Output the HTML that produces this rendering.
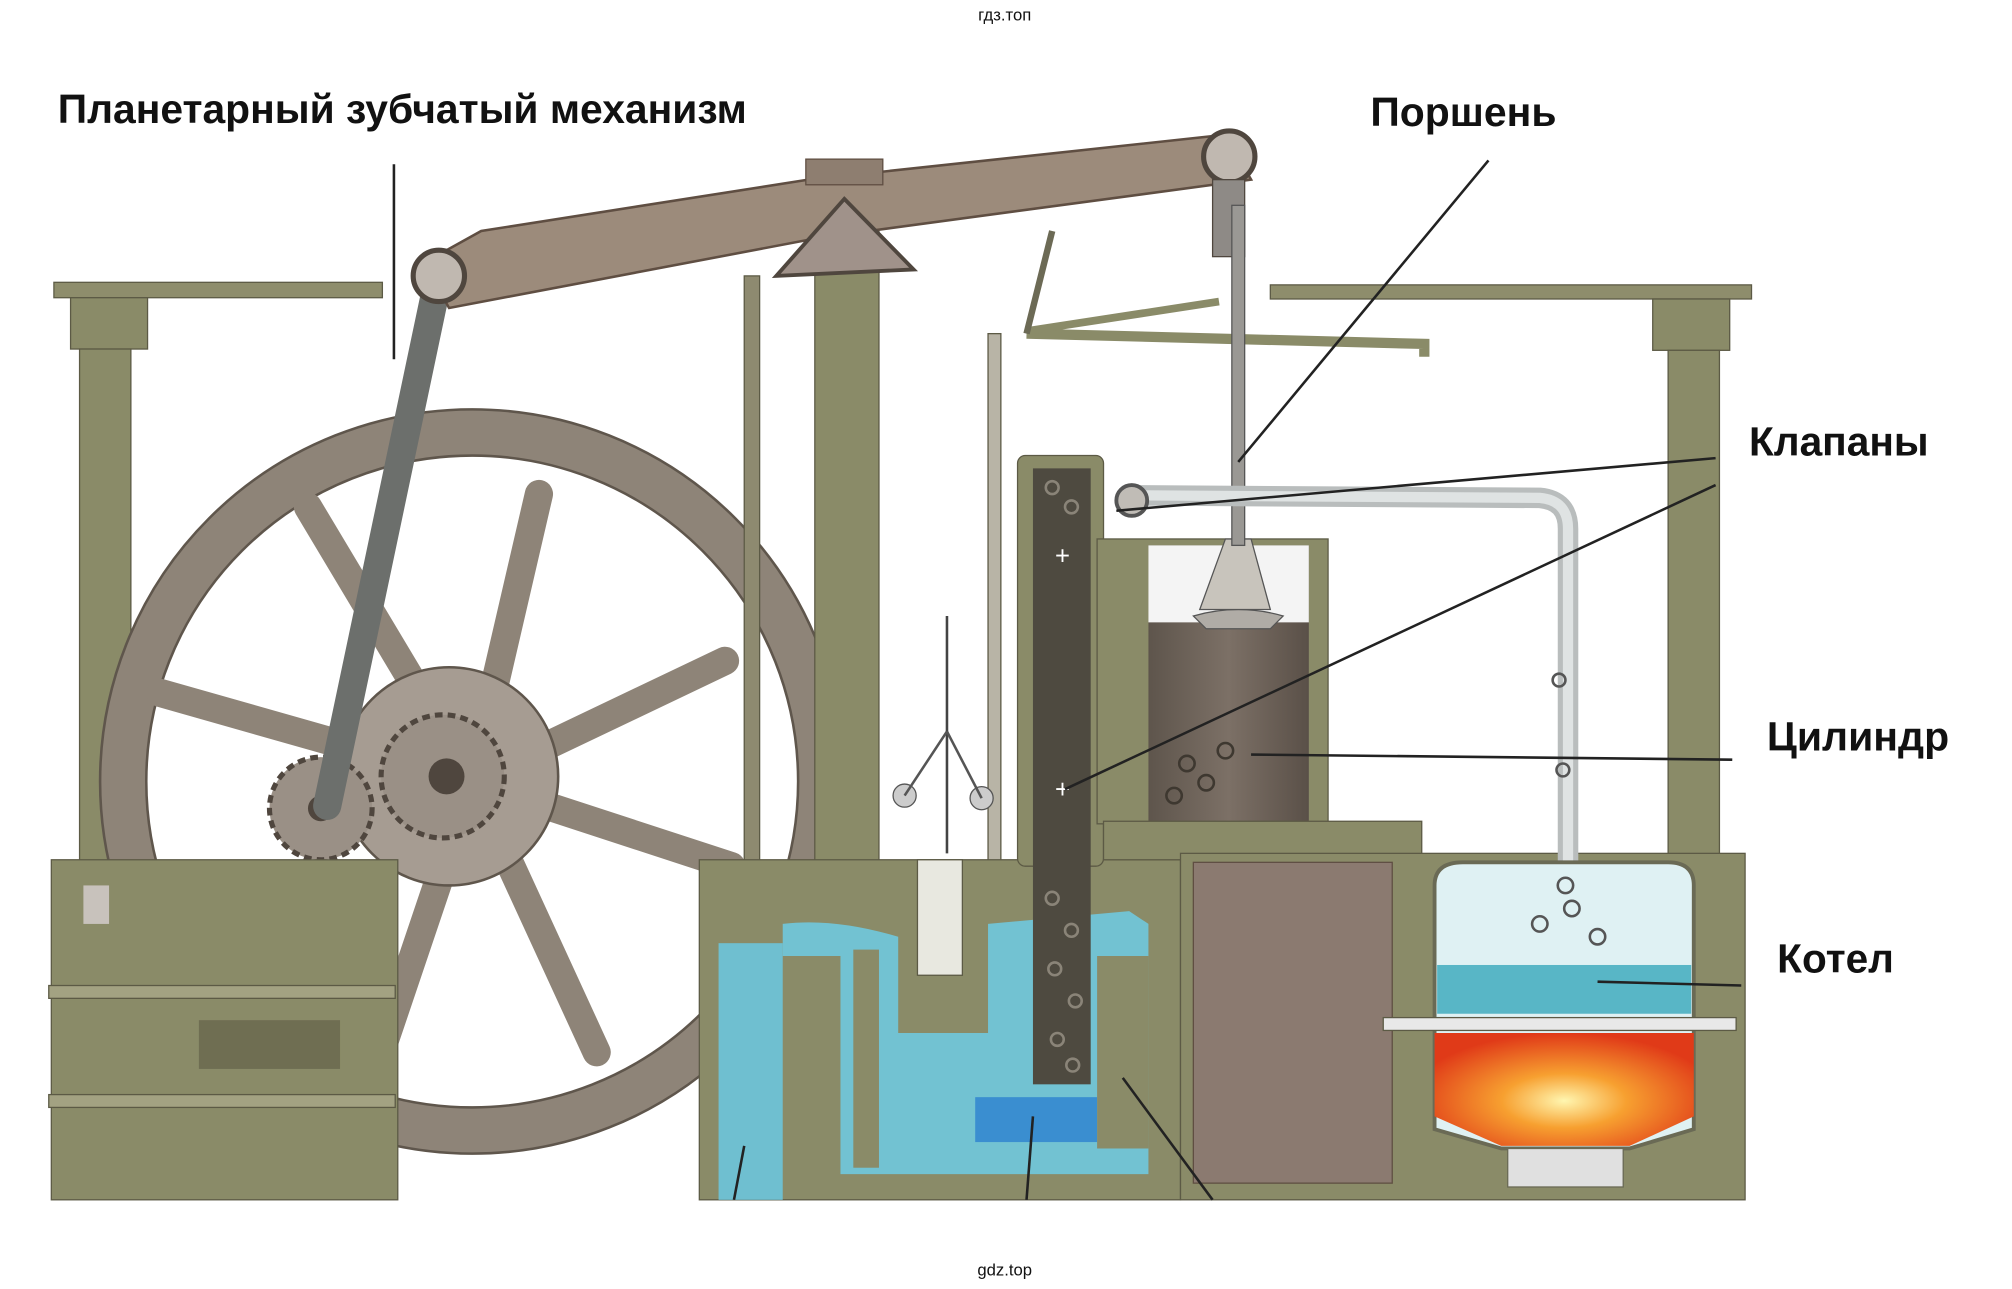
<!DOCTYPE html>
<html><head><meta charset="utf-8"><style>
html,body{margin:0;padding:0;background:#fff;width:2012px;height:1289px;overflow:hidden}
svg{display:block}
text{font-family:"Liberation Sans","DejaVu Sans",sans-serif}
.lbl{font-weight:bold;font-size:32px;fill:#111}
</style></head><body>
<svg width="2012" height="1289" viewBox="0 0 1568 1004.5" preserveAspectRatio="none" xmlns="http://www.w3.org/2000/svg">
<defs>
<radialGradient id="fire" cx="0.5" cy="0.6" r="0.6">
<stop offset="0" stop-color="#fff6b0"/><stop offset="0.4" stop-color="#f7a030"/><stop offset="1" stop-color="#e03a18"/></radialGradient>
<linearGradient id="cyl" x1="0" x2="1"><stop offset="0" stop-color="#5e554c"/><stop offset="0.5" stop-color="#7c7066"/><stop offset="1" stop-color="#5a5048"/></linearGradient>
</defs>
<text x="783" y="16" font-size="13" text-anchor="middle" fill="#111">гдз.топ</text>
<text x="783" y="994" font-size="13" text-anchor="middle" fill="#111">gdz.top</text>

<rect x="42" y="220" width="256" height="12" fill="#8e8d6c" stroke="#5c5a45"/>
<rect x="55" y="232" width="60" height="40" fill="#8a8b68" stroke="#5c5a45"/>
<rect x="62" y="272" width="40" height="400" fill="#8a8b68" stroke="#5c5a45"/>
<rect x="990" y="222" width="375" height="11" fill="#8e8d6c" stroke="#5c5a45"/>
<rect x="1288" y="233" width="60" height="40" fill="#8a8b68" stroke="#5c5a45"/>
<rect x="1300" y="273" width="40" height="400" fill="#8a8b68" stroke="#5c5a45"/>

<circle cx="368" cy="609" r="272" fill="none" stroke="#8e8478" stroke-width="36"/>
<circle cx="368" cy="609" r="290" fill="none" stroke="#5f564c" stroke-width="2"/>
<circle cx="368" cy="609" r="254" fill="none" stroke="#5f564c" stroke-width="2"/>
<g stroke="#8e8478" stroke-width="22" stroke-linecap="round">
<line x1="368" y1="609" x2="240" y2="395"/><line x1="368" y1="609" x2="420" y2="385"/>
<line x1="368" y1="609" x2="565" y2="515"/><line x1="368" y1="609" x2="570" y2="675"/>
<line x1="368" y1="609" x2="465" y2="820"/><line x1="368" y1="609" x2="290" y2="840"/>
<line x1="368" y1="609" x2="125" y2="540"/>
</g>
<circle cx="350" cy="605" r="85" fill="#a69c92" stroke="#5f564c" stroke-width="2"/>
<circle cx="345" cy="605" r="48" fill="#9a9086" stroke="#4f463e" stroke-width="4" stroke-dasharray="6 4"/>
<circle cx="348" cy="605" r="14" fill="#4f463e"/>
<circle cx="250" cy="630" r="40" fill="#9a9086" stroke="#4f463e" stroke-width="4" stroke-dasharray="6 4"/>
<circle cx="250" cy="630" r="10" fill="#4f463e"/>

<rect x="40" y="670" width="270" height="265" fill="#8a8b68" stroke="#5c5a45"/>
<rect x="38" y="768" width="270" height="10" fill="#a3a282" stroke="#5c5a45"/>
<rect x="38" y="853" width="270" height="10" fill="#a3a282" stroke="#5c5a45"/>
<rect x="65" y="690" width="20" height="30" fill="#c8c2bc"/>
<rect x="155" y="795" width="110" height="38" fill="#6f6e52"/>

<line x1="342" y1="215" x2="255" y2="628" stroke="#6c6f6c" stroke-width="22" stroke-linecap="round"/>

<rect x="635" y="180" width="50" height="500" fill="#8a8b68" stroke="#5c5a45"/>
<rect x="580" y="215" width="12" height="545" fill="#8e8a70" stroke="#5c5a45"/>
<rect x="770" y="260" width="10" height="540" fill="#b8b4a6" stroke="#5c5a45"/>

<polygon points="330,205 375,180 630,140 955,105 975,140 640,185 350,240" fill="#9c8b7b" stroke="#5f4e42" stroke-width="2"/>
<rect x="628" y="124" width="60" height="20" fill="#8e7e70" stroke="#5f4e42"/>
<polygon points="658,155 712,210 605,215" fill="#a0928a" stroke="#4f463e" stroke-width="3"/>
<circle cx="342" cy="215" r="20" fill="#c0b8b0" stroke="#4f463e" stroke-width="4"/>
<circle cx="958" cy="122" r="20" fill="#c0b8b0" stroke="#4f463e" stroke-width="4"/>
<rect x="945" y="140" width="25" height="60" fill="#8e8a86" stroke="#4f463e"/>
<polyline points="800,260 1110,268 1110,278" fill="none" stroke="#8a8b68" stroke-width="8"/>
<line x1="800" y1="258" x2="950" y2="235" stroke="#8a8b68" stroke-width="6"/>
<line x1="800" y1="260" x2="820" y2="180" stroke="#6c6a55" stroke-width="5"/>

<rect x="545" y="670" width="375" height="265" fill="#8a8b68" stroke="#5c5a45"/>
<rect x="560" y="735" width="50" height="200" fill="#6fbfd0"/>
<path d="M610,720 Q650,715 700,730 L700,805 L770,805 L770,720 L880,710 L895,720 L895,915 L655,915 L655,745 L610,745 Z" fill="#72c2d2"/>
<rect x="760" y="855" width="95" height="35" fill="#3a8ed0"/>
<rect x="665" y="740" width="20" height="170" fill="#8a8b68"/>
<rect x="855" y="745" width="40" height="150" fill="#8a8b68"/>
<rect x="715" y="670" width="35" height="90" fill="#e8e8e0" stroke="#5c5a45"/>
<line x1="738" y1="480" x2="738" y2="665" stroke="#444" stroke-width="2"/>
<circle cx="705" cy="620" r="9" fill="#ccc" stroke="#555"/><circle cx="765" cy="622" r="9" fill="#ccc" stroke="#555"/>
<line x1="705" y1="620" x2="738" y2="570" stroke="#555" stroke-width="2"/><line x1="765" y1="622" x2="738" y2="570" stroke="#555" stroke-width="2"/>

<rect x="793" y="355" width="67" height="320" rx="6" fill="#8a8b68" stroke="#5c5a45"/>
<rect x="805" y="365" width="45" height="480" fill="#4e4a40"/>
<g fill="none" stroke="#8a8478" stroke-width="2">
<circle cx="820" cy="700" r="5"/><circle cx="835" cy="725" r="5"/><circle cx="822" cy="755" r="5"/><circle cx="838" cy="780" r="5"/><circle cx="824" cy="810" r="5"/><circle cx="836" cy="830" r="5"/><circle cx="820" cy="380" r="5"/><circle cx="835" cy="395" r="5"/>
</g>
<text x="828" y="440" font-size="20" fill="#fff" text-anchor="middle">+</text>
<text x="828" y="622" font-size="20" fill="#fff" text-anchor="middle">+</text>

<rect x="855" y="420" width="180" height="222" fill="#8a8b68" stroke="#5c5a45"/>
<rect x="895" y="425" width="125" height="215" fill="url(#cyl)"/>
<rect x="895" y="425" width="125" height="60" fill="#f4f4f4"/>
<path d="M930,480 Q965,470 1000,480 L990,490 L940,490 Z" fill="#b0aca6" stroke="#555"/>
<path d="M955,420 L975,420 L990,475 L935,475 Z" fill="#c8c4bc" stroke="#555"/>
<rect x="960" y="160" width="10" height="265" fill="#9a9894" stroke="#555"/>
<g fill="none" stroke="#3e3830" stroke-width="2"><circle cx="925" cy="595" r="6"/><circle cx="955" cy="585" r="6"/><circle cx="940" cy="610" r="6"/><circle cx="915" cy="620" r="6"/></g>

<rect x="860" y="640" width="248" height="30" fill="#8a8b68" stroke="#5c5a45"/>
<rect x="920" y="665" width="440" height="270" fill="#8a8b68" stroke="#5c5a45"/>
<rect x="930" y="672" width="155" height="250" fill="#8b7a70" stroke="#5f4e42"/>

<path d="M880,386 L1200,388 Q1222,390 1222,412 L1222,680" fill="none" stroke="#b9bdbd" stroke-width="16"/>
<path d="M880,386 L1200,388 Q1222,390 1222,412 L1222,680" fill="none" stroke="#dfe3e3" stroke-width="8"/>
<circle cx="882" cy="390" r="12" fill="#c0bcb6" stroke="#555" stroke-width="3"/>

<path d="M1118,690 Q1118,672 1140,672 L1300,672 Q1320,672 1320,690 L1320,880 L1270,895 L1170,895 L1118,880 Z" fill="#dff1f3" stroke="#6a6a55" stroke-width="3"/>
<rect x="1120" y="752" width="198" height="38" fill="#58b6c6"/>
<rect x="1078" y="793" width="275" height="10" fill="#e8e8e8" stroke="#5c5a45"/>
<path d="M1118,805 L1320,805 L1320,870 L1270,893 L1170,893 L1118,870 Z" fill="url(#fire)"/>
<rect x="1175" y="895" width="90" height="30" fill="#e0e0e0" stroke="#6a6a55"/>
<g fill="none" stroke="#555" stroke-width="2"><circle cx="1220" cy="690" r="6"/><circle cx="1200" cy="720" r="6"/><circle cx="1225" cy="708" r="6"/><circle cx="1245" cy="730" r="6"/><circle cx="1215" cy="530" r="5"/><circle cx="1218" cy="600" r="5"/></g>

<g stroke="#222" stroke-width="2">
<line x1="307" y1="128" x2="307" y2="280"/>
<line x1="1160" y1="125" x2="965" y2="360"/>
<line x1="1337" y1="357" x2="870" y2="398"/>
<line x1="1337" y1="378" x2="830" y2="615"/>
<line x1="1350" y1="592" x2="975" y2="588"/>
<line x1="1357" y1="768" x2="1245" y2="765"/>
<line x1="580" y1="893" x2="572" y2="935"/>
<line x1="805" y1="870" x2="800" y2="935"/>
<line x1="875" y1="840" x2="945" y2="935"/>
</g>

<text class="lbl" x="45" y="96" textLength="537" lengthAdjust="spacingAndGlyphs">Планетарный зубчатый механизм</text>
<text class="lbl" x="1068" y="98" textLength="145" lengthAdjust="spacingAndGlyphs">Поршень</text>
<text class="lbl" x="1363" y="355" textLength="140" lengthAdjust="spacingAndGlyphs">Клапаны</text>
<text class="lbl" x="1377" y="585" textLength="142" lengthAdjust="spacingAndGlyphs">Цилиндр</text>
<text class="lbl" x="1385" y="758" textLength="91" lengthAdjust="spacingAndGlyphs">Котел</text>
</svg>
</body></html>
